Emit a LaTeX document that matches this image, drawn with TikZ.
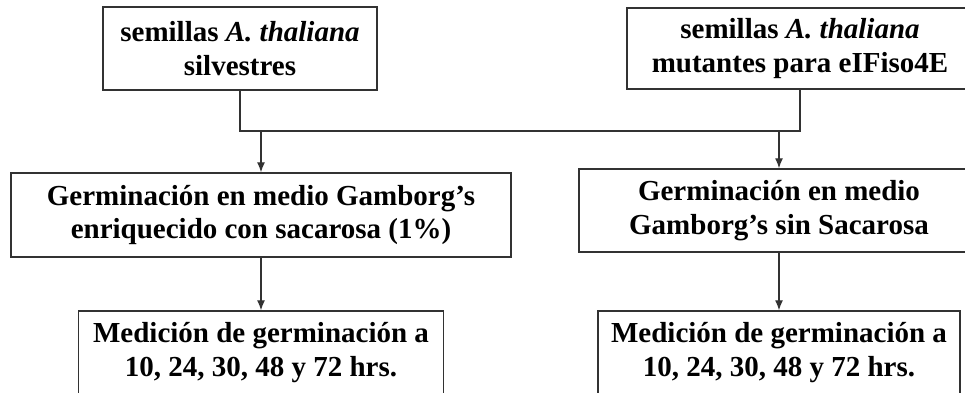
\documentclass[tikz,border=0pt]{standalone}
\usepackage{fontspec}
\setmainfont{Liberation Serif}
\usetikzlibrary{arrows.meta}
\definecolor{linegray}{RGB}{50,50,50}
\begin{document}
\begin{tikzpicture}[x=1pt,y=-1pt,
  box/.style={draw=linegray, line width=1.4pt, rectangle, inner sep=0pt, align=center,
    font=\bfseries\fontsize{29}{33.5}\selectfont},
  conn/.style={line width=1.3pt, draw=linegray},
  arr/.style={conn, -{Latex[length=10pt,width=8pt]}}]
\useasboundingbox (0,0) rectangle (965,392);
\clip (0,0) rectangle (965,392);
\node[box, minimum width=274pt, minimum height=83pt] (A) at (240,48.5) {semillas \textit{A. thaliana}\\silvestres};
\node[box, minimum width=346pt, minimum height=81pt] (B) at (800,48.5) {semillas \textit{A. thaliana}\\mutantes para eIFiso4E};
\node[box, minimum width=500pt, minimum height=84pt] (C) at (261,215) {Germinación en medio Gamborg’s\\enriquecido con sacarosa (1\%)};
\node[box, minimum width=400pt, minimum height=83pt] (D) at (779,210.5) {Germinación en medio\\Gamborg’s sin Sacarosa};
\node[box, minimum width=365pt, minimum height=83pt] (E) at (261,352.5) {Medición de germinación a\\10, 24, 30, 48 y 72 hrs.};
\node[box, minimum width=362pt, minimum height=83pt] (F) at (779,352.5) {Medición de germinación a\\10, 24, 30, 48 y 72 hrs.};
\coordinate (bus) at (0,131);
\draw[conn] (A.south) -- (A.south |- bus) -- (B.south |- bus) -- (B.south);
\draw[arr] (bus -| C.north) -- (C.north);
\draw[arr] (bus -| D.north) -- (D.north);
\draw[arr] (C.south) -- (E.north);
\draw[arr] (D.south) -- (F.north);
\end{tikzpicture}
\end{document}
